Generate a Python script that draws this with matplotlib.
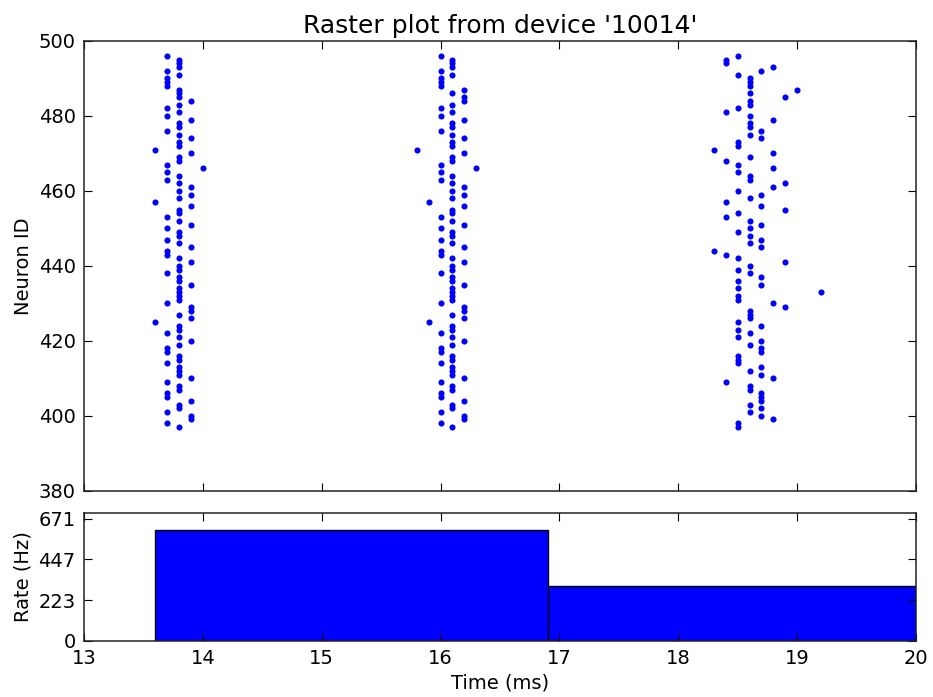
import matplotlib
matplotlib.use("Agg")
import matplotlib.pyplot as plt

# ---- data: spike columns (time in ms, neuron IDs firing at that time) ----
b1_times = [13.6, 13.7, 13.8, 13.9, 14.0]
b1_ids = [
    [425, 457, 471],
    [398, 401, 405, 406, 409, 414, 417, 418, 422, 430, 438, 443, 444, 447, 450,
     453, 463, 465, 467, 476, 480, 482, 488, 489, 490, 492, 496],
    [397, 402, 403, 407, 408, 411, 412, 413, 415, 416, 419, 421, 423, 424, 427,
     431, 432, 433, 434, 436, 437, 439, 440, 442, 446, 448, 449, 452, 454, 455,
     458, 460, 462, 464, 468, 469, 472, 473, 475, 477, 478, 481, 483, 485, 486,
     487, 491, 493, 494, 495],
    [399, 400, 404, 410, 420, 426, 428, 429, 435, 441, 445, 451, 456, 459, 461,
     470, 474, 479, 484],
    [466],
]

b2_times = [15.8, 15.9, 16.0, 16.1, 16.2, 16.3]
b2_ids = [
    [471],
    [425, 457],
    [398, 401, 405, 406, 409, 414, 417, 418, 422, 430, 438, 443, 444, 447, 450,
     453, 463, 465, 467, 476, 480, 482, 488, 489, 490, 492, 496],
    [397, 402, 403, 407, 408, 411, 412, 413, 415, 416, 419, 421, 423, 424, 427,
     431, 432, 433, 434, 436, 437, 439, 440, 442, 446, 448, 449, 452, 454, 455,
     458, 460, 462, 464, 468, 469, 472, 473, 475, 477, 478, 481, 483, 486,
     491, 493, 494, 495],
    [399, 400, 404, 410, 420, 426, 428, 429, 435, 441, 445, 451, 456, 459, 461,
     470, 474, 479, 484, 485, 487],
    [466],
]

b3_times = [18.3, 18.4, 18.5, 18.6, 18.7, 18.8, 18.9, 19.0, 19.2]
b3_ids = [
    [444, 471],
    [409, 443, 453, 457, 468, 481, 494, 495],
    [397, 398, 414, 415, 416, 421, 423, 425, 431, 432, 434, 436, 439, 442, 449,
     454, 460, 465, 467, 472, 473, 482, 491, 496],
    [401, 403, 407, 408, 412, 419, 422, 426, 427, 428, 438, 440, 446, 448, 450,
     452, 458, 463, 464, 469, 475, 477, 478, 480, 483, 484, 486, 488, 489, 490],
    [400, 402, 404, 405, 406, 411, 413, 417, 418, 420, 424, 435, 437, 445, 447,
     451, 456, 459, 474, 476, 492],
    [399, 410, 430, 461, 466, 470, 479, 493],
    [429, 441, 455, 462, 485],
    [487],
    [433],
]

hist_edges = [13.6, 16.9, 20.2]
hist_rates = [606, 303]
rate_ticks = [0, 223, 447, 671]
time_ticks = [13, 14, 15, 16, 17, 18, 19, 20]
id_ticks = [380, 400, 420, 440, 460, 480, 500]

# ---- flatten ----
xs, ys = [], []
for times, ids in ((b1_times, b1_ids), (b2_times, b2_ids), (b3_times, b3_ids)):
    for t, col in zip(times, ids):
        xs.extend([t] * len(col))
        ys.extend(col)

plt.rcParams['font.family'] = ['DejaVu Sans']
plt.rcParams['font.size'] = 14

fig = plt.figure(figsize=(9.33, 6.97), dpi=100)
W, H = 933.0, 697.0
left, right = 84, 916
ax1 = fig.add_axes([left / W, 1 - 490.7 / H, (right - left) / W, (490.7 - 41) / H])
ax2 = fig.add_axes([left / W, 1 - 640.7 / H, (right - left) / W, (640.7 - 513.3) / H])

ax1.plot(xs, ys, 'o', color=(0, 0, 1), markersize=4.4, markeredgewidth=0,
         linestyle='none')
ax1.set_xlim(13, 20)
ax1.set_ylim(380, 500)
ax1.set_xticks(time_ticks)
ax1.set_yticks(id_ticks)
ax1.set_xticklabels([])
ax1.set_ylabel('Neuron ID')
ax1.set_title("Raster plot from device '10014'", fontsize=18, pad=6)

widths = [hist_edges[i + 1] - hist_edges[i] for i in range(len(hist_rates))]
ax2.bar(hist_edges[:-1], hist_rates, width=widths, align='edge',
        color=(0, 0, 1), edgecolor='black', linewidth=1.0)
ax2.set_xlim(13, 20)
ax2.set_ylim(0, 700)
ax2.set_yticks(rate_ticks)
ax2.set_xticks(time_ticks)
ax2.set_ylabel('Rate (Hz)')
ax2.set_xlabel('Time (ms)', labelpad=4)

for ax in (ax1, ax2):
    ax.tick_params(direction='in', top=True, right=True, length=6, width=0.8,
                   labelsize=14, pad=6)
    for s in ax.spines.values():
        s.set_linewidth(1.1)
        s.set_color('#222222')

fig.savefig('out.png', dpi=100, facecolor='white')
